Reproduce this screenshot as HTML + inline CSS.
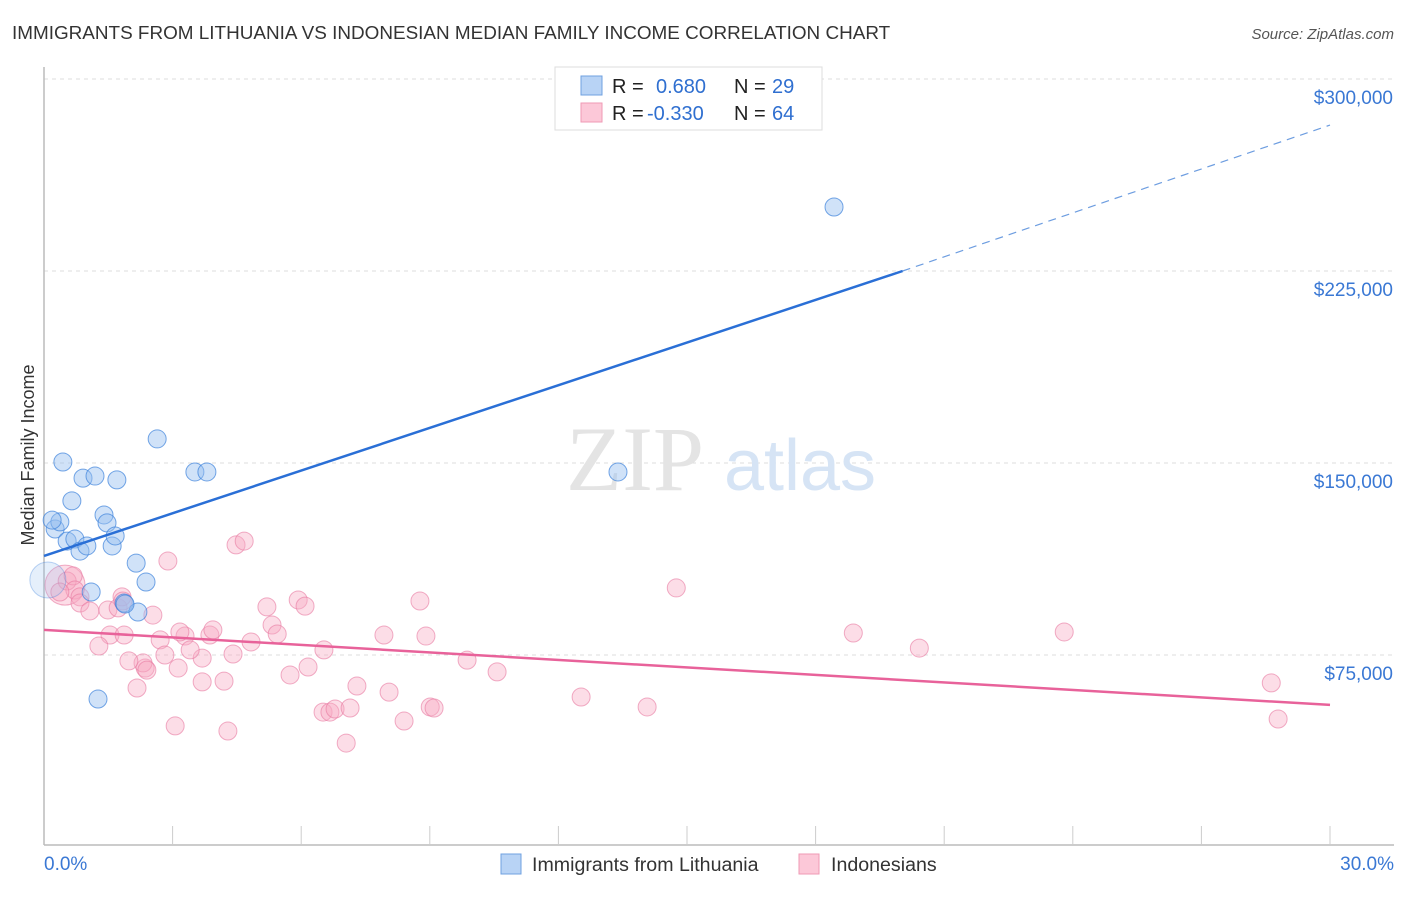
<!DOCTYPE html>
<html><head><meta charset="utf-8"><style>
body{margin:0;background:#fff;font-family:"Liberation Sans",sans-serif;}
</style></head><body>
<svg width="1406" height="892" xmlns="http://www.w3.org/2000/svg">
<text x="12" y="39" font-size="18.9" fill="#333">IMMIGRANTS FROM LITHUANIA VS INDONESIAN MEDIAN FAMILY INCOME CORRELATION CHART</text>
<text x="1394" y="39" font-size="15" fill="#555" font-style="italic" text-anchor="end">Source: ZipAtlas.com</text>
<g id="grid"></g>
<text x="635" y="490" font-size="92" fill="#e4e4e4" font-family="Liberation Serif,serif" text-anchor="middle">ZIP</text>
<text x="800" y="490" font-size="72" fill="#d6e4f5" text-anchor="middle">atlas</text>
<text transform="translate(34,455) rotate(-90)" font-size="18" fill="#333" text-anchor="middle">Median Family Income</text>
<g id="axes"></g>
<g id="marks"></g>
<rect x="555" y="67" width="267" height="63" fill="#fff" stroke="#ddd"/>
<rect x="581" y="76" width="21" height="19" fill="#b8d3f5" stroke="#6fa0e0"/>
<rect x="581" y="103" width="21" height="19" fill="#fcc8d8" stroke="#ef9ab5"/>
<g font-size="20" fill="#222">
<text x="612" y="93">R =</text><text x="656" y="93" fill="#2f6fd0">0.680</text><text x="734" y="93">N =</text><text x="772" y="93" fill="#2f6fd0">29</text>
<text x="612" y="120">R =</text><text x="647" y="120" fill="#2f6fd0">-0.330</text><text x="734" y="120">N =</text><text x="772" y="120" fill="#2f6fd0">64</text>
</g>
<rect x="501" y="854" width="20" height="20" fill="#b8d3f5" stroke="#6fa0e0"/>
<text x="532" y="871" font-size="19.6" fill="#333">Immigrants from Lithuania</text>
<rect x="799" y="854" width="20" height="20" fill="#fcc8d8" stroke="#ef9ab5"/>
<text x="831" y="871" font-size="19.6" fill="#333">Indonesians</text>
</svg>
<script>
const blueX=[0.09,0.26,0.37,0.54,0.72,0.84,1.00,1.40,1.47,1.59,1.66,2.15,2.38,1.10,1.87,2.19,1.26,2.64,0.44,0.65,0.91,1.19,1.70,3.52,3.80,13.39,18.43,0.19,1.89];
const blueY=[104300,124200,127000,119500,120300,115600,117600,129700,126600,117600,121500,110900,103500,99600,95300,91800,57800,159400,150400,135200,144100,144900,143400,146500,146500,146500,250000,127700,94900];
const pinkX=[0.49,0.54,0.68,0.72,0.84,0.37,0.84,1.07,1.49,1.54,1.87,1.28,1.73,1.82,1.84,2.54,2.89,2.71,3.13,2.82,3.29,2.36,2.31,2.17,1.98,2.40,3.06,3.69,3.41,3.87,3.94,3.17,3.69,4.41,4.20,4.48,4.67,5.20,5.32,5.44,5.74,5.93,6.09,6.16,4.83,4.29,6.51,6.67,6.79,7.05,7.14,7.30,6.53,8.05,7.93,8.40,8.77,8.91,9.01,9.10,9.87,10.57,12.53,14.07,14.75,18.88,20.42,23.80,28.63,28.79];
const pinkY=[102300,103900,105900,100400,97700,99600,95300,92200,92600,82800,82800,78500,93400,97700,96100,90600,111700,80900,69900,75000,82400,69900,71900,62100,72700,69100,47300,73800,77000,82800,84800,84000,64500,75400,64800,118000,119500,93800,86700,83200,67200,96500,94100,70300,80100,45300,52700,52700,53900,40600,54300,62900,77000,60500,82800,49200,96100,82400,54700,54300,73000,68400,58600,54700,101200,83600,77700,84000,64100,50000];
const yTicks=[75000,150000,225000,300000];
const yTickLabels=["$75,000","$150,000","$225,000","$300,000"];
const xTickLabels=["0.0%","30.0%"];
const blueLine=[[0,113700],[20.03,225000],[30,282000]];
const pinkLine=[[0,84800],[30,55500]];
const NS="http://www.w3.org/2000/svg";
const sx=v=>44+v/30*1286, sy=v=>847-v/75000*192;
function mk(tag,attrs,parent){const e=document.createElementNS(NS,tag);for(const k in attrs)e.setAttribute(k,attrs[k]);document.getElementById(parent).appendChild(e);return e;}
yTicks.forEach((t,i)=>{
 const l=mk('line',{x1:44,x2:1394,y1:sy(t),y2:sy(t),stroke:'#ddd','stroke-dasharray':'4,4'},'grid');
 
 
 const tx=mk('text',{x:1393,y:sy(t)+25,'font-size':19,fill:'#3a78d4','text-anchor':'end'},'axes');
 tx.textContent=yTickLabels[i];
 
 
});
const ya=mk('line',{x1:44,x2:44,y1:67,y2:845,stroke:'#bbb','stroke-width':1.5},'axes');


const xa=mk('line',{x1:44,x2:1394,y1:845,y2:845,stroke:'#bbb','stroke-width':1.5},'axes');


for(let i=1;i<=10;i++){const t=mk('line',{x1:sx(i*3),x2:sx(i*3),y1:826,y2:845,stroke:'#ccc'},'axes');
 
 }
[[0,'start',44],[30,'end',1394]].forEach((a,i)=>{const t=mk('text',{x:a[2],y:870,'font-size':19,fill:'#3a78d4','text-anchor':a[1]},'axes');t.textContent=xTickLabels[i];
 
 });
pinkX.forEach((x,i)=>{const c=mk('circle',{cx:sx(x),cy:sy(pinkY[i]),r:i==0?20:9,fill:'rgba(248,170,195,0.4)',stroke:'rgba(232,120,160,0.6)','stroke-width':1},'marks');
 
 });
blueX.forEach((x,i)=>{const c=mk('circle',{cx:sx(x),cy:sy(blueY[i]),r:i==0?18:9,fill:i==0?'rgba(150,190,240,0.25)':'rgba(150,190,240,0.45)',stroke:i==0?'rgba(60,130,220,0.35)':'rgba(60,130,220,0.7)','stroke-width':1},'marks');
 
 });
const b1=mk('line',{x1:sx(blueLine[0][0]),y1:sy(blueLine[0][1]),x2:sx(blueLine[1][0]),y2:sy(blueLine[1][1]),stroke:'#2a6fd6','stroke-width':2.5},'marks');


const b2=mk('line',{x1:sx(blueLine[1][0]),y1:sy(blueLine[1][1]),x2:sx(blueLine[2][0]),y2:sy(blueLine[2][1]),stroke:'#6d9de0','stroke-width':1.2,'stroke-dasharray':'8,6'},'marks');


const p1=mk('line',{x1:sx(pinkLine[0][0]),y1:sy(pinkLine[0][1]),x2:sx(pinkLine[1][0]),y2:sy(pinkLine[1][1]),stroke:'#e8629a','stroke-width':2.5},'marks');


</script>
</body></html>
